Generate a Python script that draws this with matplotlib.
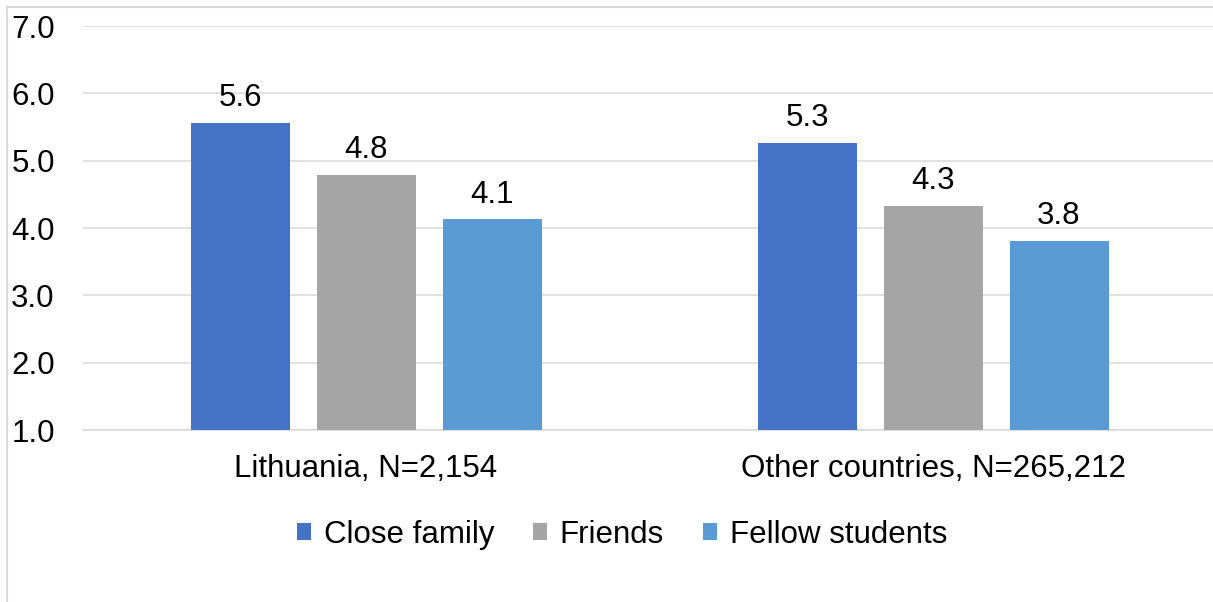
import matplotlib
matplotlib.use("Agg")
import matplotlib.pyplot as plt
from matplotlib.patches import Patch
from matplotlib.lines import Line2D
import numpy as np

plt.rcParams['font.family'] = ['Liberation Sans', 'DejaVu Sans']

categories = ["Lithuania, N=2,154", "Other countries, N=265,212"]
series_names = ["Close family", "Friends", "Fellow students"]
close_family = [5.56, 5.26]
friends = [4.79, 4.33]
fellow_students = [4.13, 3.81]
colors = ["#4472C4", "#A5A5A5", "#5B9BD5"]
yticks = [1.0, 2.0, 3.0, 4.0, 5.0, 6.0, 7.0]

W, H = 1213, 602
fig = plt.figure(figsize=(W / 100, H / 100), dpi=100)
ax = fig.add_axes([82.5 / W, 1 - 430 / H, 1134 / W, 404 / H])

x = np.arange(len(categories))
bw = 99 / 567
step = 126 / 567
fs = 22.5
for i, (vals, name, c) in enumerate(zip([close_family, friends, fellow_students], series_names, colors)):
    bars = ax.bar(x + (i - 1) * step, vals, width=bw, color=c, zorder=3, label=name)
    ax.bar_label(bars, labels=[f"{v:.1f}" for v in vals], padding=7, fontsize=fs, color="#000000")

ax.set_xlim(-0.5, 1.5)
ax.set_ylim(1, 7)
ax.set_yticks(yticks)
ax.set_yticklabels([f"{v:.1f}" for v in yticks])
ax.set_xticks(x)
ax.set_xticklabels(categories)
ax.tick_params(axis='y', length=0, pad=20, labelsize=fs, colors="#000000")
ax.tick_params(axis='x', length=0, pad=17, labelsize=fs, colors="#000000")
ax.grid(axis='y', color="#d9d9d9", linewidth=1.1, zorder=0)
for s in ["top", "right", "left"]:
    ax.spines[s].set_visible(False)
ax.spines["bottom"].set_color("#d9d9d9")
ax.spines["bottom"].set_linewidth(1.1)

handles = [Patch(facecolor=c, edgecolor='none') for c in colors]
fig.legend(handles, series_names, loc='center', bbox_to_anchor=(622 / W, 1 - 535 / H),
           ncol=3, frameon=False, fontsize=fs, handlelength=0.45, handleheight=0.45,
           handletextpad=0.4, columnspacing=1.25)

# chart border (left and top edges visible)
fig.add_artist(Line2D([7 / W, 7 / W], [0, 1 - 7 / H], color="#d9d9d9", linewidth=1.5, transform=fig.transFigure))
fig.add_artist(Line2D([7 / W, 1], [1 - 7 / H, 1 - 7 / H], color="#d9d9d9", linewidth=1.5, transform=fig.transFigure))

fig.savefig("out.png", dpi=100, facecolor="white")
